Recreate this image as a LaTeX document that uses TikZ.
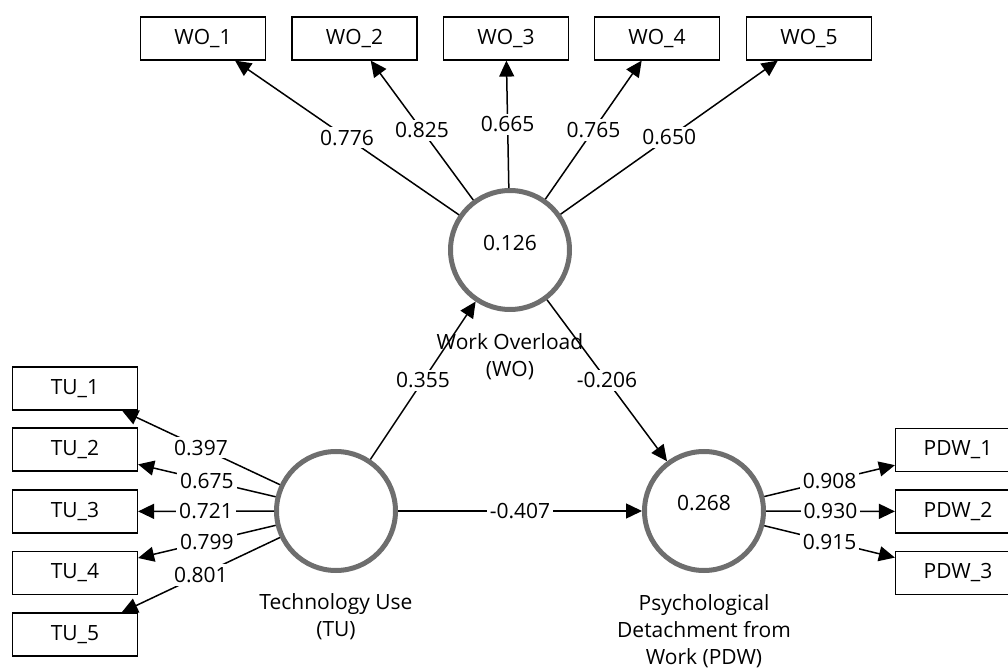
\documentclass[tikz,border=0pt]{standalone}
\usepackage{fontspec}
\setmainfont{Open Sans}
\usetikzlibrary{arrows.meta}
\begin{document}
\begin{tikzpicture}[x=0.5pt,y=-0.5pt,
  every node/.style={font=\fontsize{10.5}{13.5}\selectfont},
  indicator/.style={draw=black, line width=0.6pt, minimum width=62.5pt, minimum height=21.5pt, inner sep=0pt},
  latent/.style={circle, draw=black!57, line width=2.5pt, minimum size=59.5pt, inner sep=0pt},
  link/.style={-{Triangle[length=8pt,width=7.5pt]}, line width=0.75pt},
  coef/.style={fill=white, inner sep=1.5pt}]
  \useasboundingbox (0,0) rectangle (1008,668);
  \clip (0,0) rectangle (1008,668);
  % The latent variables
  \node[latent] (wo) at (510,250) {};
  \node (woval) at (510,243) {0.126};
  \node[align=center] (wolab) at (510,357) {Work Overload\\(WO)};
  \node[latent] (tu) at (336,511) {};
  \node[align=center] (tulab) at (336,617) {Technology Use\\(TU)};
  \node[latent] (pdw) at (704,511) {};
  \node (pdwval) at (704,503) {0.268};
  \node[align=center] (pdwlab) at (704,631) {Psychological\\Detachment from\\Work (PDW)};
  % The structural paths
  \draw[link] (tu) -- node[coef]{0.355} (wo);
  \draw[link] (wo) -- node[coef]{-0.206} (pdw);
  \draw[link] (tu) -- node[coef]{-0.407} (pdw);
  % Work overload indicators
  \foreach \i/\x/\l in {1/203/0.776, 2/354.5/0.825, 3/506/0.665, 4/657/0.765, 5/809/0.650}
  {
    \node[indicator] (wo\i) at (\x,38.5) {WO\_\i};
    \draw[link] (wo) -- node[coef]{\l} (wo\i);
  }
  % Technology use indicators
  \foreach \i/\y/\l in {1/388.5/0.397, 2/449.5/0.675, 3/511.5/0.721, 4/573/0.799, 5/634.5/0.801}
  {
    \node[indicator] (tu\i) at (75,\y) {TU\_\i};
    \draw[link] (tu) -- node[coef]{\l} (tu\i);
  }
  % Detachment indicators
  \foreach \i/\y/\l in {1/450/0.908, 2/511.5/0.930, 3/573/0.915}
  {
    \node[indicator] (pdw\i) at (958,\y) {PDW\_\i};
    \draw[link] (pdw) -- node[coef]{\l} (pdw\i);
  }
\end{tikzpicture}
\end{document}
